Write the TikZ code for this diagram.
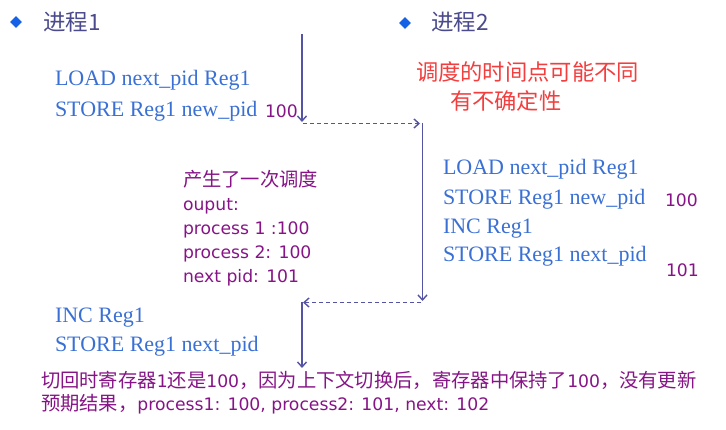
\documentclass[tikz,border=0pt]{standalone}
\usepackage{fontspec}
\usetikzlibrary{arrows.meta,shapes.geometric}
\newfontfamily\zh{Noto Sans CJK SC}
\newfontfamily\asmfont{Liberation Serif}
\newfontfamily\notefont{DejaVu Sans}
\definecolor{asmblue}{RGB}{58,112,212}
\definecolor{titlec}{RGB}{74,74,140}
\definecolor{bulletc}{RGB}{22,98,230}
\definecolor{notec}{RGB}{134,20,134}
\definecolor{warnc}{RGB}{242,62,62}
\definecolor{flowc}{RGB}{84,84,164}
\tikzset{
  txt/.style={anchor=base west, inner sep=0pt, outer sep=0pt},
  asm/.style={txt, text=asmblue, font=\asmfont\fontsize{22}{26}\selectfont},
  title/.style={txt, text=titlec, font=\zh\fontsize{22.5}{26}\selectfont},
  note/.style={txt, text=notec, font=\notefont\fontsize{17.2}{20}\selectfont},
  zhnote/.style={txt, text=notec, font=\zh\fontsize{19.3}{22}\selectfont},
  warn/.style={txt, text=warnc, font=\zh\fontsize{22.3}{26}\selectfont},
  bullet/.style={diamond, fill=bulletc, minimum size=12pt, inner sep=0pt},
  flow/.style={draw=flowc, line width=1.7pt,
    -{Straight Barb[length=5pt,width=9pt,line width=1.4pt]}},
  switch/.style={flow, dash pattern=on 4pt off 3pt},
}
\newcommand{\zhs}[1]{{\zh\fontsize{19.3}{22}\selectfont #1}}
\begin{document}
\begin{tikzpicture}[x=1pt,y=-1pt]
  \useasboundingbox (0,0) rectangle (726,430);

  % headings
  \node[bullet] (b1) at (16,22) {};
  \node[title] (t1) at (43,31) {进程1};
  \node[bullet] (b2) at (405,23) {};
  \node[title] (t2) at (431,31) {进程2};

  % process 1, first half
  \node[asm] (p1a) at (55,86) {LOAD next\_pid Reg1};
  \node[asm] (p1b) at (55,116.5) {STORE Reg1 new\_pid};
  \node[note] (v1) at (265,118) {100};

  % remark on scheduling
  \node[warn] (w1) at (416,81) {调度的时间点可能不同};
  \node[warn] (w2) at (450,110) {有不确定性};

  % output after the switch
  \node[zhnote] (o0) at (183,187) {产生了一次调度};
  \node[note] (o1) at (183,211) {ouput:};
  \node[note] (o2) at (183,235) {process 1 :100};
  \node[note] (o3) at (183,259) {process 2: 100};
  \node[note] (o4) at (183,283) {next pid: 101};

  % process 2
  \node[asm] (p2a) at (443,175) {LOAD next\_pid Reg1};
  \node[asm] (p2b) at (443,205) {STORE Reg1 new\_pid};
  \node[note] (v2) at (665,207) {100};
  \node[asm] (p2c) at (443,233.5) {INC Reg1};
  \node[asm] (p2d) at (443,262) {STORE Reg1 next\_pid};
  \node[note] (v3) at (666,277) {101};

  % process 1, second half
  \node[asm] (p1c) at (55,323) {INC Reg1};
  \node[asm] (p1d) at (55,352) {STORE Reg1 next\_pid};

  % conclusion
  \node[note] (c1) at (41,388) {\zhs{切回时寄存器}1\zhs{还是}100\zhs{，因为上下文切换后，寄存器中保持了}100\zhs{，没有更新}};
  \node[note] (c2) at (41,410) {\zhs{预期结果，}process1: 100, process2: 101, next: 102};

  % execution flow
  \coordinate (a0) at (302,34);
  \coordinate (a1) at (302,122);
  \coordinate (s0) at (303,123.5);
  \coordinate (s1) at (420,123.5);
  \coordinate (r0) at (422.5,123);
  \coordinate (r1) at (422.5,301);
  \coordinate (k0) at (421,302.5);
  \coordinate (k1) at (303,302.5);
  \coordinate (e0) at (302,302.5);
  \coordinate (e1) at (302,368);

  \draw[flow] (a0) -- (a1);
  \draw[switch] (s0) -- (s1);
  \draw[flow] (r0) -- (r1);
  \draw[switch] (k0) -- (k1);
  \draw[flow] (e0) -- (e1);
\end{tikzpicture}
\end{document}
